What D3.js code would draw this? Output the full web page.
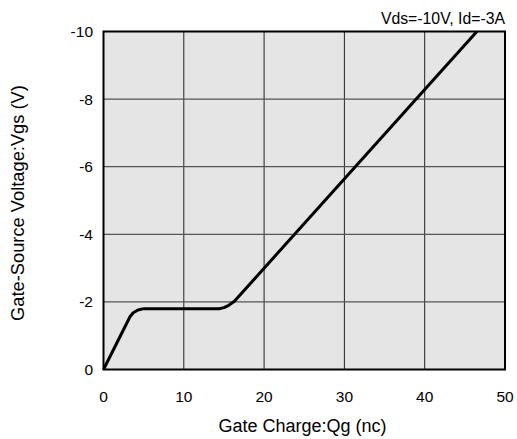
<!DOCTYPE html>
<html><head><meta charset="utf-8">
<script src="https://cdn.jsdelivr.net/npm/d3@7"></script>
<style>body{margin:0;background:#fff}text{font-family:"Liberation Sans",Arial,sans-serif;fill:#000}</style>
</head><body>
<svg id="c" width="517" height="439"></svg>
<script>
const qg = [0, 3.3, 3.7, 4.3, 5.0, 14.4, 15.0, 15.6, 16.3, 46.5];
const vgs = [0, -1.56, -1.68, -1.76, -1.8, -1.8, -1.83, -1.9, -2.02, -10];
const xTicks = [0, 10, 20, 30, 40, 50];
const yTicks = [0, -2, -4, -6, -8, -10];
const note = "Vds=-10V, Id=-3A";
const xTitle = "Gate Charge:Qg (nc)";
const yTitle = "Gate-Source Voltage:Vgs (V)";

const svg = d3.select("#c");
const L = 103.5, R = 505, T = 31.5, B = 369.5;
const x = d3.scaleLinear().domain([0, 50]).range([L, R]);
const y = d3.scaleLinear().domain([0, -10]).range([B, T]);

svg.append("rect").attr("x", L).attr("y", T).attr("width", R - L).attr("height", B - T).attr("fill", "#e5e5e5");
svg.selectAll(".gx").data(xTicks.slice(1, -1)).enter().append("line")
  .attr("x1", d => x(d)).attr("x2", d => x(d)).attr("y1", T).attr("y2", B)
  .attr("stroke", "#222").attr("stroke-width", 1);
svg.selectAll(".gy").data(yTicks.slice(1, -1)).enter().append("line")
  .attr("y1", d => y(d)).attr("y2", d => y(d)).attr("x1", L).attr("x2", R)
  .attr("stroke", "#555").attr("stroke-width", 1.2);

const pts = qg.map((q, i) => [q, vgs[i]]);
svg.append("path").datum(pts)
  .attr("d", d3.line().x(d => x(d[0])).y(d => y(d[1])))
  .attr("fill", "none").attr("stroke", "#000").attr("stroke-width", 3).attr("stroke-linejoin", "round");

svg.append("rect").attr("x", L).attr("y", T).attr("width", R - L).attr("height", B - T)
  .attr("fill", "none").attr("stroke", "#000").attr("stroke-width", 2);

svg.selectAll(".xl").data(xTicks).enter().append("text")
  .attr("x", d => x(d)).attr("y", 402).attr("text-anchor", "middle").attr("font-size", 15.5).text(d => d);
svg.selectAll(".yl").data(yTicks).enter().append("text")
  .attr("x", 93).attr("y", d => y(d) + 5.5).attr("text-anchor", "end").attr("font-size", 15.5).text(d => d);

svg.append("text").attr("x", 302.5).attr("y", 432).attr("text-anchor", "middle").attr("font-size", 18).text(xTitle);
svg.append("text").attr("transform", `translate(24,203) rotate(-90)`).attr("text-anchor", "middle").attr("font-size", 18.3).text(yTitle);
svg.append("text").attr("x", 505).attr("y", 24).attr("text-anchor", "end").attr("font-size", 15.8).text(note);
</script>
</body></html>
